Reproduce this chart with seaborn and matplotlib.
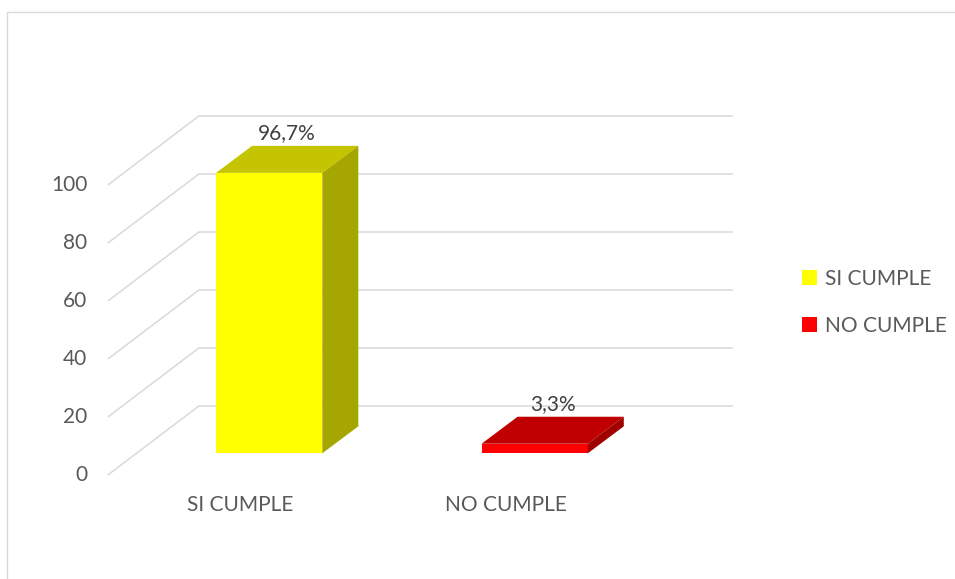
import matplotlib
matplotlib.use("Agg")
import matplotlib.pyplot as plt
from matplotlib.patches import Polygon, Rectangle
import seaborn as sns
import pandas as pd

# chart data
categories = ["SI CUMPLE", "NO CUMPLE"]
values = [96.7, 3.3]
value_labels = ["96,7%", "3,3%"]
y_ticks = [0, 20, 40, 60, 80, 100]

# colours: front, top and side faces of each 3d bar
front_colors = ["#FFFF00", "#FF0000"]
top_colors = ["#C4C400", "#C00000"]
side_colors = ["#A6A600", "#A00000"]

# pixel scale of the fake 3d projection
PX_CAT = 265.5   # pixels per category step
PX_VAL = 2.9     # pixels per value unit
W, H = 955, 579

bar_w = 0.4
depth_dx, depth_dy = 36 / PX_CAT, 27 / PX_VAL          # bar depth
front_dx, front_dy = -28.6 / PX_CAT, -21.7 / PX_VAL    # floor front edge vs bar front
back_dx, back_dy = 62.4 / PX_CAT, 47.3 / PX_VAL        # back wall vs bar front

grid_color = "#D9D9D9"
text_color = "#595959"
fs = 15

sns.set_theme(style="white")
plt.rcParams["font.family"] = ["Lato", "DejaVu Sans"]

fig = plt.figure(figsize=(W / 100, H / 100), dpi=100)
ax = fig.add_axes([0, 0, 1, 1])

df = pd.DataFrame({"cat": categories, "val": values})
sns.barplot(data=df, x="cat", y="val", hue="cat", palette=front_colors,
            saturation=1, width=bar_w, ax=ax, legend=True, zorder=3, linewidth=0)
ax.set_xlim(-269.2 / PX_CAT, (W - 269.2) / PX_CAT)
ax.set_ylim(-(H - 453.3) / PX_VAL, 453.3 / PX_VAL)
ax.axis("off")

# gridlines: left side wall diagonal + back wall horizontal
x_lo, x_hi = -0.5, len(categories) - 0.5
for v in y_ticks:
    ax.plot([x_lo + front_dx, x_lo + back_dx, x_hi + back_dx + 0.012],
            [v + front_dy, v + back_dy, v + back_dy],
            color=grid_color, lw=1.1, zorder=1, solid_capstyle="butt")
    ax.text(x_lo + front_dx - 0.078, v + front_dy, str(v), ha="right", va="center",
            fontsize=fs, color=text_color)

# top and side faces of the bars
bars = [p for p in ax.patches if p.get_height() > 0]
for i, p in enumerate(bars):
    left = p.get_x()
    right = left + p.get_width()
    h = p.get_height()
    top = Polygon([(left, h), (right, h), (right + depth_dx, h + depth_dy),
                   (left + depth_dx, h + depth_dy)], closed=True,
                  facecolor=top_colors[i], edgecolor="none", zorder=3)
    side = Polygon([(right, 0), (right, h), (right + depth_dx, h + depth_dy),
                    (right + depth_dx, depth_dy)], closed=True,
                   facecolor=side_colors[i], edgecolor="none", zorder=3)
    ax.add_patch(top)
    ax.add_patch(side)
    cx = left + p.get_width() / 2
    ax.text(cx + depth_dx / 2, h + depth_dy + 4.5, value_labels[i], ha="center",
            va="center", fontsize=fs, color="#404040", zorder=4)
    ax.text(cx + front_dx, -17.8, categories[i], ha="center", va="center",
            fontsize=fs, color=text_color)

sns.move_legend(ax, loc="center left", bbox_to_anchor=(792 / W, 1 - 302.5 / H),
                bbox_transform=fig.transFigure, frameon=False, title=None,
                fontsize=fs, handlelength=0.7, handleheight=0.7,
                handletextpad=0.4, labelspacing=1.3, borderpad=0)
for t in ax.get_legend().get_texts():
    t.set_color(text_color)

# chart area border (only left/top visible in the crop)
fig.add_artist(Rectangle((7 / W, -0.1), 1.2, 1.1 - 12 / H, transform=fig.transFigure,
                         fill=False, edgecolor=grid_color, lw=1))

fig.savefig("out.png", dpi=100)
